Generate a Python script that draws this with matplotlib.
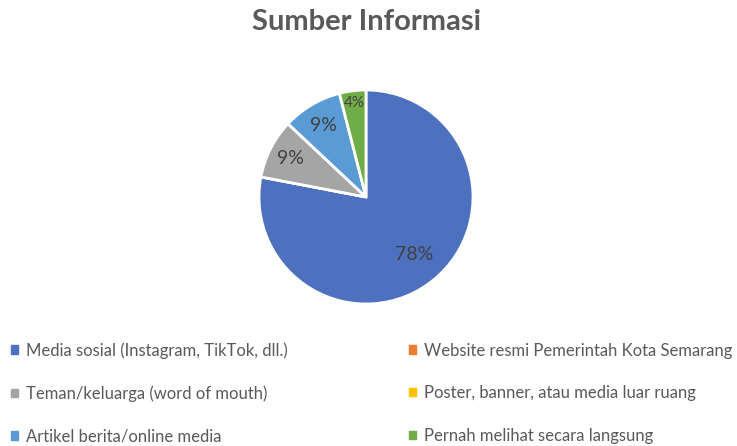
import numpy as np
import matplotlib.pyplot as plt
from matplotlib.patches import Patch

plt.rcParams['font.family'] = ['Lato', 'DejaVu Sans']

# data
labels = ['Media sosial (Instagram, TikTok, dll.)',
          'Website resmi Pemerintah Kota Semarang',
          'Teman/keluarga (word of mouth)',
          'Poster, banner, atau media luar ruang',
          'Artikel berita/online media',
          'Pernah melihat secara langsung']
values = [78, 0, 9, 0, 9, 4]
colors = ['#4E71BF', '#ED7D31', '#A5A5A5', '#FFC000', '#5B9BD5', '#70AD47']

# label placement (fraction of radius) and size, per slice
label_dist = [0.70, 0, 0.79, 0, 0.78, 0.89]
label_size = [14, 0, 14, 0, 14, 11]

fig = plt.figure(figsize=(7.37, 4.46), dpi=100)
ax = fig.add_axes([(366 - 107) / 737, 1 - (197 + 107) / 446, 214 / 737, 214 / 446])

wedges, _ = ax.pie(values, colors=colors, startangle=90, counterclock=False,
                   wedgeprops=dict(edgecolor='white', linewidth=2))
ax.set_xlim(-1, 1)
ax.set_ylim(-1, 1)
ax.set_aspect('equal')

total = sum(values)
for w, v, d, s in zip(wedges, values, label_dist, label_size):
    if v == 0:
        continue
    ang = np.deg2rad((w.theta1 + w.theta2) / 2)
    ax.text(d * np.cos(ang), d * np.sin(ang), f'{round(100 * v / total)}%',
            ha='center', va='center', fontsize=s, color='#404040')

fig.text(366 / 737, 1 - 22 / 446, 'Sumber Informasi', ha='center', va='center',
         fontsize=21, fontweight='bold', color='#595959')

# legend, filled row by row
order = [0, 2, 4, 1, 3, 5]
handles = [Patch(color=colors[i]) for i in order]
leg = fig.legend(handles, [labels[i] for i in order], ncol=2,
                 loc='upper left', bbox_to_anchor=(11 / 737, 1 - 342 / 446),
                 frameon=False, fontsize=12, handlelength=0.4, handleheight=0.4,
                 handletextpad=0.5, labelspacing=1.6, columnspacing=7.3,
                 borderaxespad=0, borderpad=0)
for t in leg.get_texts():
    t.set_color('#595959')

fig.savefig('out.png', dpi=100)
